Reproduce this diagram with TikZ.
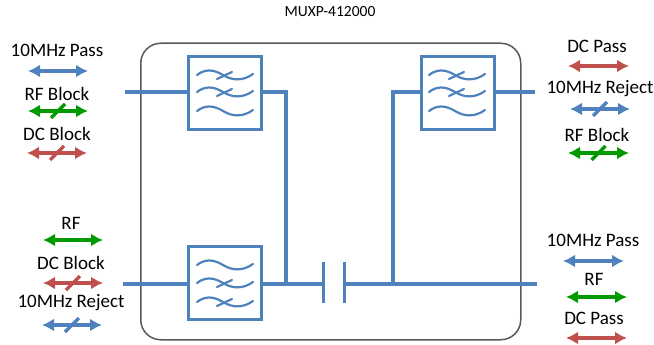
\documentclass[tikz,border=0pt]{standalone}
\usepackage{fontspec}
\setmainfont{Carlito}
\usetikzlibrary{arrows.meta}
\definecolor{fblue}{HTML}{4F81BD}
\definecolor{fgreen}{HTML}{009A00}
\definecolor{fred}{HTML}{C0504D}
\definecolor{fgray}{HTML}{595959}
\tikzset{
  wire/.style={draw=fblue,line width=3.2pt},
  filterbox/.style={draw=fblue,line width=3.2pt,minimum width=73pt,minimum height=73pt,inner sep=0pt,anchor=north west},
  wav/.style={draw=fblue,line width=2.2pt,line cap=round},
  lbl/.style={inner sep=0pt,font=\fontsize{19}{20}\selectfont},
  dbl/.style={line width=3.2pt,{Latex[length=12pt,width=13pt]}-{Latex[length=12pt,width=13pt]}},
  slash/.style={line width=3.2pt},
}
\newcommand{\plainwave}[2]{\draw[wav] (#1,#2) .. controls (#1+8,#2-6) and (#1+16,#2-6) .. (#1+26,#2) .. controls (#1+36,#2+6) and (#1+46,#2+6) .. (#1+56,#2-1);}
\newcommand{\crosswave}[2]{\plainwave{#1}{#2}\draw[wav] (#1+20,#2+4) -- (#1+35,#2-3);}
\newcommand{\sig}[8]{%
  \node[lbl] (#1) at (#3,#4) {#2};
  \coordinate (#1a) at (#5,#7); \coordinate (#1b) at (#6,#7);
  \draw[dbl,draw=#8,fill=#8] (#1a) -- (#1b);}
\newcommand{\sigx}[8]{%
  \sig{#1}{#2}{#3}{#4}{#5}{#6}{#7}{#8}
  \path (#1a) -- (#1b) coordinate[midway] (#1m);
  \draw[slash,draw=#8] ([shift={(-7,7)}]#1m) -- ([shift={(7,-7)}]#1m);}
\begin{document}
\begin{tikzpicture}[x=1pt,y=-1pt]
\useasboundingbox (0,0) rectangle (654,345);
\node[inner sep=0pt,font=\fontsize{15.5}{16}\selectfont] (title) at (330,12) {MUXP-412000};
\node[draw=fgray,line width=1.5pt,rounded corners=20pt,minimum width=380pt,minimum height=296.5pt,inner sep=0pt,anchor=north west] (case) at (140,42.5) {};
\node[filterbox] (f1) at (187,55) {};
\node[filterbox] (f2) at (419.5,55) {};
\node[filterbox] (f3) at (187,244.5) {};
\crosswave{197}{75}\crosswave{197}{92}\plainwave{197}{111}
\crosswave{429}{75}\crosswave{429}{92}\plainwave{429}{111}
\plainwave{197}{265}\crosswave{197}{283}\crosswave{197}{302}
\coordinate (c1) at (323.5,284); \coordinate (c2) at (344.5,284);
\draw[wire] (323.5,262) -- (323.5,303);
\draw[wire] (344.5,262) -- (344.5,303);
\coordinate (p1) at (125,92); \coordinate (p2) at (535,92);
\coordinate (p3) at (123,284); \coordinate (p4) at (537,284);
\coordinate (jl) at (286,284); \coordinate (jr) at (393,284);
\draw[wire] (p1) -- (p1 -| f1.west);
\draw[wire] (f1.east |- p1) -| (jl);
\draw[wire] (p3) -- (p3 -| f3.west);
\draw[wire] (p3 -| f3.east) -- (c1);
\draw[wire] (c2) -- (p4);
\draw[wire] (jr) |- (f2.west |- p1);
\draw[wire] (f2.east |- p2) -- (p2);
\sig{a}{10MHz Pass}{57}{50}{28}{88}{71}{fblue}
\sigx{b}{RF Block}{57}{94}{28}{88}{111}{fgreen}
\sigx{c}{DC Block}{57}{134}{27}{87}{153}{fred}
\sig{d}{RF}{71}{223}{43}{103}{240}{fgreen}
\sigx{e}{DC Block}{71}{263}{43}{103}{283}{fred}
\sigx{f}{10MHz Reject}{71}{303}{42}{102}{325}{fblue}
\sig{g}{DC Pass}{597}{46}{568}{629}{66}{fred}
\sigx{h}{10MHz Reject}{600}{89}{570}{630}{109}{fblue}
\sigx{i}{RF Block}{597}{135}{568}{629}{153}{fgreen}
\sig{j}{10MHz Pass}{593}{240}{563}{624}{261}{fblue}
\sig{k}{RF}{594}{279}{566}{627}{297}{fgreen}
\sig{l}{DC Pass}{594}{318}{566}{627}{338}{fred}
\end{tikzpicture}
\end{document}
